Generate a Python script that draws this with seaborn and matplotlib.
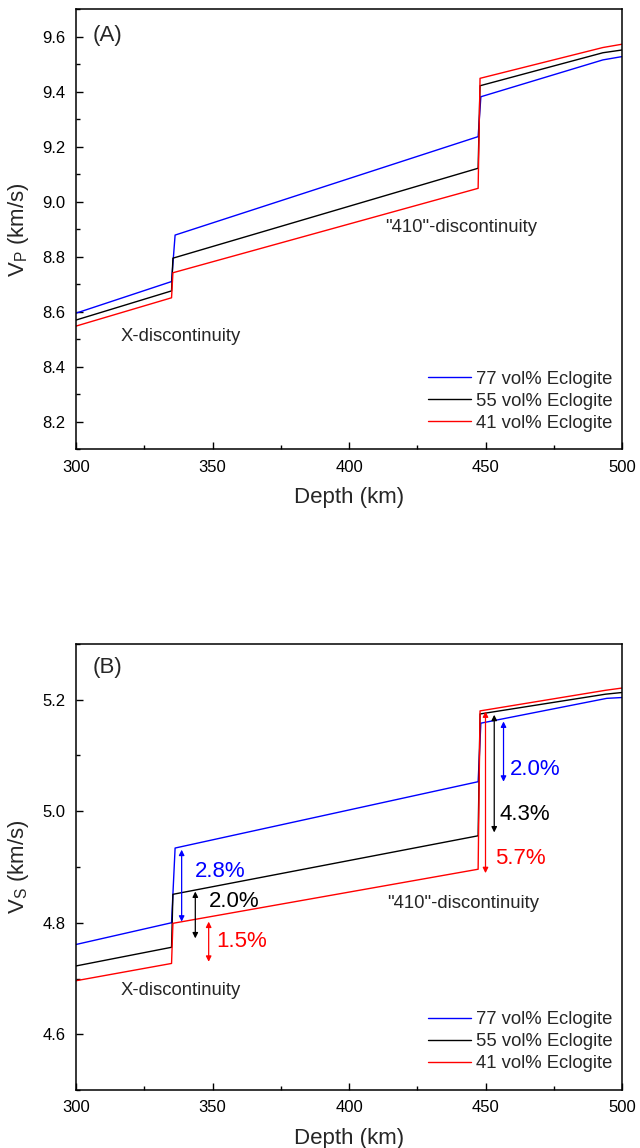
import numpy as np
import pandas as pd
import matplotlib
matplotlib.use("Agg")
import matplotlib.pyplot as plt
import seaborn as sns
from matplotlib.ticker import MultipleLocator

sns.set_theme(style="ticks")
plt.rcParams['font.family'] = ['Liberation Sans', 'DejaVu Sans']
plt.rcParams['mathtext.fontset'] = 'custom'
plt.rcParams['mathtext.rm'] = 'Liberation Sans'
plt.rcParams['mathtext.it'] = 'Liberation Sans:italic'

series_names = ["77 vol% Eclogite", "55 vol% Eclogite", "41 vol% Eclogite"]
series_colors = ["#0000ff", "#000000", "#ff0000"]

# Panel A: Vp (km/s)
vp_depth_77 = [300, 335, 336.3, 447.3, 448.3, 493, 500]
vp_77 = [8.595, 8.710, 8.879, 9.237, 9.382, 9.516, 9.528]
vp_depth_55 = [300, 335, 335.5, 447.3, 448.0, 493, 500]
vp_55 = [8.570, 8.676, 8.795, 9.122, 9.422, 9.542, 9.552]
vp_depth_41 = [300, 335, 335.5, 447.3, 448.0, 493, 500]
vp_41 = [8.548, 8.651, 8.742, 9.049, 9.449, 9.561, 9.573]

# Panel B: Vs (km/s)
vs_depth_77 = [300, 335, 336.3, 447.3, 448.3, 494.4, 500]
vs_77 = [4.761, 4.800, 4.934, 5.053, 5.158, 5.2025, 5.204]
vs_depth_55 = [300, 335, 335.5, 447.3, 448.0, 494, 500]
vs_55 = [4.7225, 4.756, 4.851, 4.956, 5.1745, 5.210, 5.213]
vs_depth_41 = [300, 335, 335.5, 447.3, 448.0, 494, 500]
vs_41 = [4.696, 4.727, 4.799, 4.896, 5.180, 5.217, 5.221]

# Jump annotations in panel B: (depth, low, high, label, text depth, text value, color)
jump_arrows = [
    (338.7, 4.802, 4.931, "2.8%", 343.6, 4.892, "#0000ff"),
    (343.7, 4.772, 4.856, "2.0%", 348.8, 4.838, "#000000"),
    (348.6, 4.730, 4.802, "1.5%", 351.5, 4.766, "#ff0000"),
    (456.6, 5.053, 5.161, "2.0%", 459.0, 5.074, "#0000ff"),
    (453.2, 4.962, 5.173, "4.3%", 455.1, 4.995, "#000000"),
    (450.0, 4.889, 5.179, "5.7%", 453.5, 4.916, "#ff0000"),
]


def long_frame(depths, values):
    rows = []
    for name, d, v in zip(series_names, depths, values):
        for x, y in zip(d, v):
            rows.append({"Depth": x, "V": y, "Composition": name})
    return pd.DataFrame(rows)


df_a = long_frame([vp_depth_77, vp_depth_55, vp_depth_41], [vp_77, vp_55, vp_41])
df_b = long_frame([vs_depth_77, vs_depth_55, vs_depth_41], [vs_77, vs_55, vs_41])

W, H = 640, 1148
fig = plt.figure(figsize=(W / 100, H / 100), dpi=100)
ax_a = fig.add_axes([76 / W, 1 - 449.3 / H, 546 / W, 440 / H])
ax_b = fig.add_axes([76 / W, 1 - 1090 / H, 546 / W, 446 / H])

palette = dict(zip(series_names, series_colors))

for ax, df in [(ax_a, df_a), (ax_b, df_b)]:
    sns.lineplot(data=df, x="Depth", y="V", hue="Composition", palette=palette,
                 estimator=None, sort=False, linewidth=1.0, ax=ax)
    ax.set_xlim(300, 500)
    ax.xaxis.set_major_locator(MultipleLocator(50))
    ax.xaxis.set_minor_locator(MultipleLocator(25))
    ax.yaxis.set_major_locator(MultipleLocator(0.2))
    ax.yaxis.set_minor_locator(MultipleLocator(0.1))
    ax.tick_params(which='both', direction='in', top=False, right=False,
                   labelsize=12, colors='black', width=1.0, pad=7.5)
    ax.tick_params(which='major', length=5)
    ax.tick_params(which='minor', length=3)
    for s in ax.spines.values():
        s.set_linewidth(1.1)
        s.set_color('black')
    ax.set_xlabel("Depth (km)", fontsize=16, labelpad=9)
    ax.legend(loc='lower right', bbox_to_anchor=(0.983, 0.04), frameon=False,
              fontsize=13.3, handlelength=2.3, handletextpad=0.3,
              labelspacing=0.27, borderaxespad=0, borderpad=0)

ax_a.set_ylim(8.1, 9.7)
ax_b.set_ylim(4.5, 5.3)
ax_a.set_ylabel(r"V$_\mathrm{P}$ (km/s)", fontsize=16, labelpad=8)
ax_b.set_ylabel(r"V$_\mathrm{S}$ (km/s)", fontsize=16, labelpad=8)

ax_a.text(306.1, 9.604, "(A)", fontsize=16, va='center', ha='left')
ax_b.text(306.1, 5.257, "(B)", fontsize=16, va='center', ha='left')

ax_a.text(316.4, 8.509, "X-discontinuity", fontsize=13.3, va='center', ha='left')
ax_a.text(413.2, 8.905, "\"410\"-discontinuity", fontsize=13.3, va='center', ha='left')
ax_b.text(316.4, 4.679, "X-discontinuity", fontsize=13.3, va='center', ha='left')
ax_b.text(413.9, 4.835, "\"410\"-discontinuity", fontsize=13.3, va='center', ha='left')

for x, lo, hi, lab, tx, ty, c in jump_arrows:
    ax_b.annotate("", xy=(x, hi), xytext=(x, lo),
                  arrowprops=dict(arrowstyle='<|-|>', color=c, lw=0.9,
                                  mutation_scale=8, shrinkA=0, shrinkB=0))
    ax_b.text(tx, ty, lab, color=c, fontsize=16, va='center', ha='left')

fig.savefig("out.png", dpi=100)
